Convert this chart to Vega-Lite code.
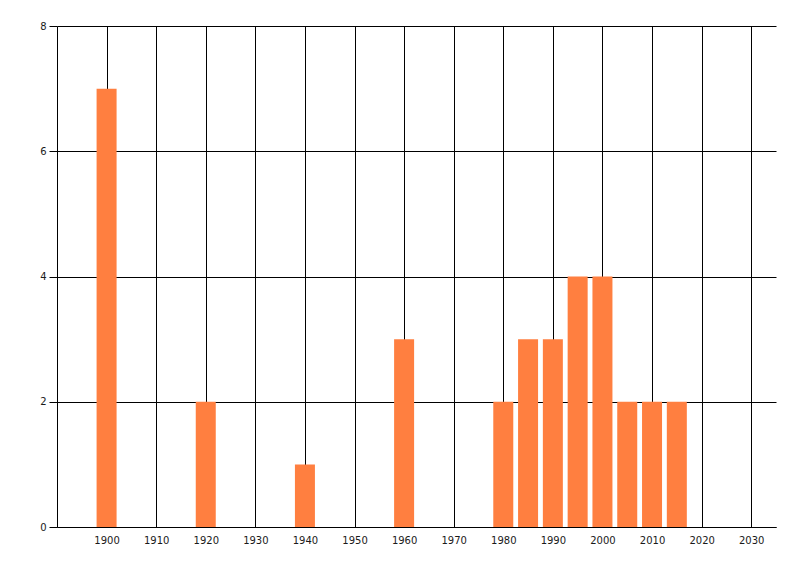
{
  "$schema": "https://vega.github.io/schema/vega-lite/v6.json",
  "width": 719,
  "height": 501,
  "autosize": {"type": "none"},
  "padding": {"left": 57, "top": 26, "right": 24, "bottom": 49},
  "background": "white",
  "config": {"view": {"stroke": null}},
  "data": {
    "values": [
      {"year": 1900, "count": 7},
      {"year": 1920, "count": 2},
      {"year": 1940, "count": 1},
      {"year": 1960, "count": 3},
      {"year": 1980, "count": 2},
      {"year": 1985, "count": 3},
      {"year": 1990, "count": 3},
      {"year": 1995, "count": 4},
      {"year": 2000, "count": 4},
      {"year": 2005, "count": 2},
      {"year": 2010, "count": 2},
      {"year": 2015, "count": 2}
    ]
  },
  "mark": {"type": "bar", "color": "#FF7F40", "width": 20},
  "encoding": {
    "x": {
      "field": "year",
      "type": "quantitative",
      "scale": {"domain": [1890, 2035], "nice": false, "zero": false, "padding": 0},
      "axis": {
        "title": null,
        "values": [1900, 1910, 1920, 1930, 1940, 1950, 1960, 1970, 1980, 1990, 2000, 2010, 2020, 2030],
        "format": "d",
        "grid": true,
        "gridColor": "black",
        "gridOpacity": 1,
        "gridWidth": 1,
        "domainColor": "black",
        "domainWidth": 1,
        "ticks": false,
        "labelPadding": 8,
        "labelFont": "DejaVu Sans",
        "labelFontSize": 10,
        "labelColor": "#1a1a1a"
      }
    },
    "y": {
      "field": "count",
      "type": "quantitative",
      "scale": {"domain": [0, 8], "nice": false, "padding": 0},
      "axis": {
        "title": null,
        "values": [0, 2, 4, 6, 8],
        "grid": true,
        "gridColor": "black",
        "gridOpacity": 1,
        "gridWidth": 1,
        "domainColor": "black",
        "domainWidth": 1,
        "ticks": true,
        "tickColor": "black",
        "tickSize": 8,
        "labelPadding": 3,
        "labelFont": "DejaVu Sans",
        "labelFontSize": 10,
        "labelColor": "#1a1a1a"
      }
    }
  }
}
